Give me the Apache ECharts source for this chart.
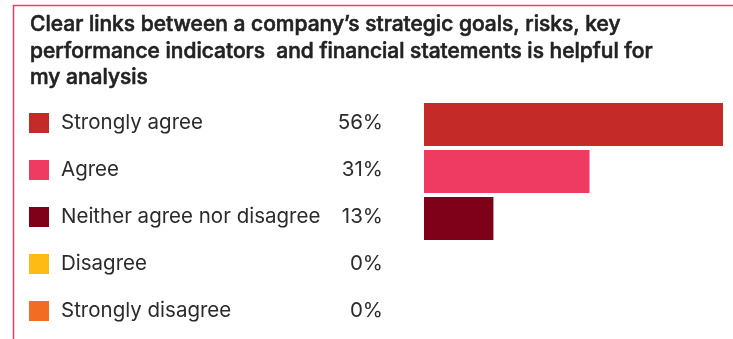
<!DOCTYPE html>
<html>
<head>
<meta charset="utf-8">
<script src="https://cdn.jsdelivr.net/npm/echarts@6/dist/echarts.min.js"></script>
<style>
  html, body { margin: 0; padding: 0; background: #ffffff; }
  #chart { width: 733px; height: 339px; }
</style>
</head>
<body>
<div id="chart"></div>
<script>
// Survey responses
const categories = ['Strongly agree', 'Agree', 'Neither agree nor disagree', 'Disagree', 'Strongly disagree'];
const shares = [56, 31, 13, 0, 0];
const colors = ['#c42a27', '#ef3b62', '#7f0019', '#fdbb13', '#f26c24'];
const titleText = 'Clear links between a company\u2019s strategic goals, risks, key\nperformance indicators  and financial statements is helpful for\nmy analysis';

const FONT = 'Inter, "Liberation Sans", Arial, sans-serif';
const TEXT = '#2b2b2b';

// one coloured key square per row
const rich = {
  gap: { width: 12 },
  name: { fontFamily: FONT, fontSize: 20.5, color: TEXT, width: 262 },
  pct: { fontFamily: FONT, fontSize: 20.5, color: TEXT, width: 60, align: 'right' }
};
colors.forEach((c, i) => {
  rich['sq' + i] = { width: 20, height: 20, backgroundColor: c };
});

const chart = echarts.init(document.getElementById('chart'), null, { renderer: 'canvas' });
chart.setOption({
  animation: false,
  backgroundColor: '#ffffff',
  title: {
    text: titleText,
    left: 30,
    top: 11.5,
    padding: 0,
    textStyle: {
      fontFamily: FONT,
      fontSize: 21,
      fontWeight: 500,
      color: '#222222',
      lineHeight: 26.5,
      // slightly heavier strokes for a medium-weight heading
      textBorderColor: '#222222',
      textBorderWidth: 0.6
    }
  },
  graphic: [{
    type: 'polyline',
    shape: { points: [[13.5, 339], [13.5, 5.5], [733, 5.5]] },
    style: { stroke: '#f03c64', lineWidth: 1.5, fill: null },
    silent: true
  }],
  grid: { left: 424, right: 10, top: 101, bottom: 3, containLabel: false },
  xAxis: {
    type: 'value',
    min: 0,
    max: 56,
    show: false
  },
  yAxis: {
    type: 'category',
    inverse: true,
    data: categories,
    axisLine: { show: false },
    axisTick: { show: false },
    splitLine: { show: false },
    axisLabel: {
      margin: 395,
      align: 'left',
      padding: [0, 0, 3, 0],
      formatter: (value, index) => `{sq${index}|}{gap|}{name|${value}}{pct|${shares[index]}%}`,
      rich: rich
    }
  },
  series: [{
    type: 'bar',
    barWidth: 43,
    data: shares.map((v, i) => ({ value: v, itemStyle: { color: colors[i] } })),
    silent: true
  }]
});
</script>
</body>
</html>
